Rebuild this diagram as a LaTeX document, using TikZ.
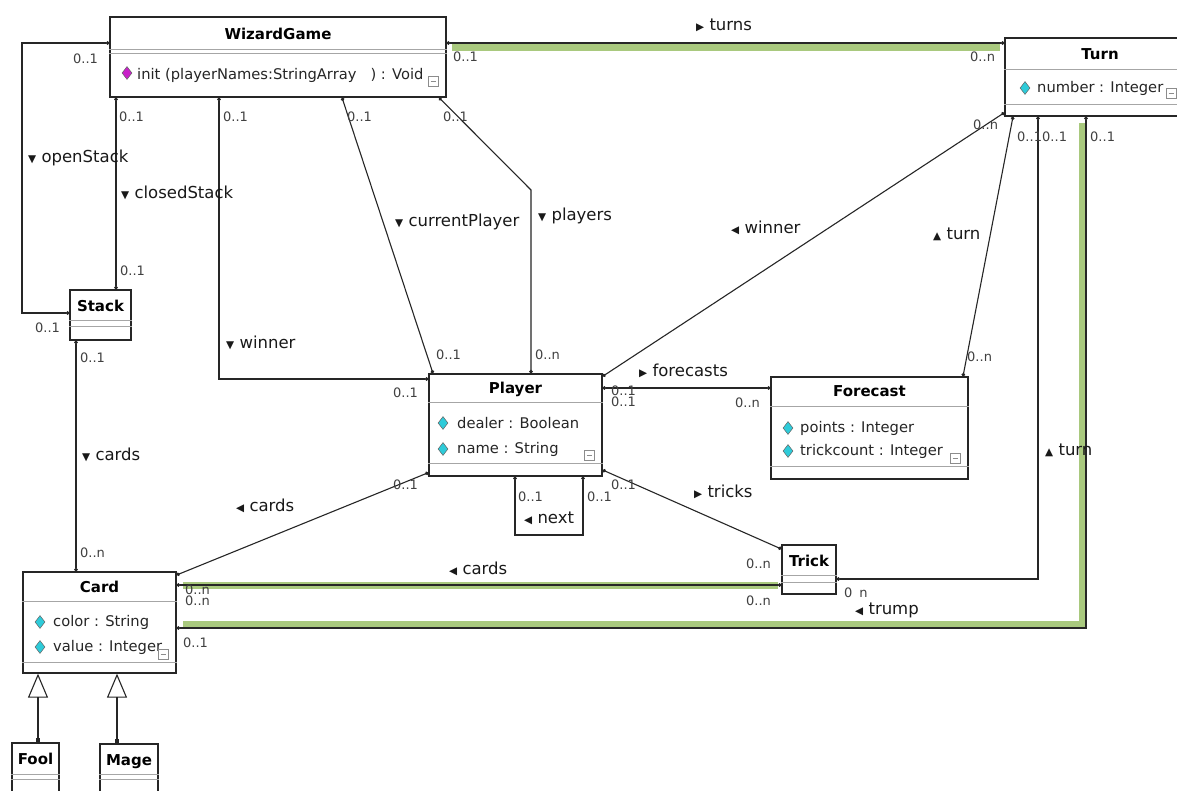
\documentclass[tikz,border=0pt]{standalone}
\usepackage{fontspec}
\setmainfont{DejaVu Sans}
\usetikzlibrary{arrows.meta,shapes.geometric}
\definecolor{hl}{HTML}{A9C97E}
\definecolor{attrcol}{HTML}{2ECBD9}
\definecolor{opcol}{HTML}{C81FC8}
\begin{document}
\begin{tikzpicture}[x=1pt,y=-1pt,
	cls/.style={draw=black!85,line width=1.3pt,fill=white,inner sep=0pt},
	ttl/.style={font=\fontsize{15}{17}\selectfont\bfseries,inner sep=0pt},
	mbr/.style={font=\fontsize{14.7}{16}\selectfont,anchor=west,inner sep=0pt,text=black!85},
	mult/.style={font=\fontsize{13}{15}\selectfont,anchor=west,inner sep=0pt,text=black!75},
	lbl/.style={font=\fontsize{16.5}{18}\selectfont,anchor=west,inner sep=0pt,text=black!90},
	sepl/.style={draw=black!35,line width=1pt},
	assoc/.style={draw=black!85,line width=1.1pt,{Circle[length=3.5pt]}-{Circle[length=3.5pt]}},
	hilite/.style={draw=hl,line width=7pt},
	gen/.style={draw=black!85,line width=1.1pt,{Square[length=4pt]}-{Triangle[open,length=24pt,width=20pt]}},
	aicon/.style={diamond,draw=black!60,fill=attrcol,line width=.5pt,minimum width=10pt,minimum height=13pt,inner sep=0pt},
	oicon/.style={aicon,fill=opcol},
	colbox/.style={draw=black!45,fill=white,line width=.7pt,minimum size=10pt,inner sep=0pt,
		path picture={\draw[black!45,line width=.7pt] ([xshift=2.5pt]path picture bounding box.west)--([xshift=-2.5pt]path picture bounding box.east);}}]
	\def\trR{{\fontsize{10.5}{10}\selectfont▶}}%
	\def\trL{{\fontsize{10.5}{10}\selectfont◀}}%
	\def\trU{{\fontsize{10.5}{10}\selectfont▲}}%
	\def\trD{{\fontsize{10.5}{10}\selectfont▼}}%
	\fill[white] (0,0) rectangle (1177,791);
	\useasboundingbox (0,0) rectangle (1177,791);
	% classes
	\node[cls,minimum width=336pt,minimum height=80pt] (wg) at (278,57) {};
	\node[ttl] (wg-t) at ([yshift=-18pt]wg.north) {WizardGame};
	\draw[sepl] ([yshift=-33pt]wg.north west)--([yshift=-33pt]wg.north east) ([yshift=-37pt]wg.north west)--([yshift=-37pt]wg.north east);
	\node[oicon] (wg-oi) at (127,73) {};
	\node[mbr] (wg-o) at (137,75) {init (playerNames:StringArray\ \ \ ) : Void};
	\node[colbox] (wg-c) at (433,81) {};

	\node[cls,minimum width=190pt,minimum height=78pt] (tu) at (1100,77) {};
	\node[ttl] (tu-t) at ([yshift=-17pt]tu.north) {Turn};
	\draw[sepl] ([yshift=-32pt]tu.north west)--([yshift=-32pt]tu.north east) ([yshift=-67pt]tu.north west)--([yshift=-67pt]tu.north east);
	\node[aicon] (tu-ai) at (1025,88) {};
	\node[mbr] (tu-a) at (1037,88) {number : Integer};
	\node[colbox] (tu-c) at (1171,93) {};

	\node[cls,minimum width=61pt,minimum height=50pt] (st) at (100.5,315) {};
	\node[ttl] (st-t) at ([yshift=-17pt]st.north) {Stack};
	\draw[sepl] ([yshift=-31pt]st.north west)--([yshift=-31pt]st.north east) ([yshift=-37pt]st.north west)--([yshift=-37pt]st.north east);

	\node[cls,minimum width=173pt,minimum height=102pt] (pl) at (515.5,425) {};
	\node[ttl] (pl-t) at ([yshift=-16pt]pl.north) {Player};
	\draw[sepl] ([yshift=-29pt]pl.north west)--([yshift=-29pt]pl.north east) ([yshift=-90pt]pl.north west)--([yshift=-90pt]pl.north east);
	\node[aicon] (pl-ai1) at (443,423) {};
	\node[mbr] (pl-a1) at (457,423) {dealer : Boolean};
	\node[aicon] (pl-ai2) at (443,449) {};
	\node[mbr] (pl-a2) at (457,449) {name : String};
	\node[colbox] (pl-c) at (589,455) {};

	\node[cls,minimum width=197pt,minimum height=102pt] (fc) at (869.5,428) {};
	\node[ttl] (fc-t) at ([yshift=-15pt]fc.north) {Forecast};
	\draw[sepl] ([yshift=-30pt]fc.north west)--([yshift=-30pt]fc.north east) ([yshift=-90pt]fc.north west)--([yshift=-90pt]fc.north east);
	\node[aicon] (fc-ai1) at (788,428) {};
	\node[mbr] (fc-a1) at (800,428) {points : Integer};
	\node[aicon] (fc-ai2) at (788,451) {};
	\node[mbr] (fc-a2) at (800,451) {trickcount : Integer};
	\node[colbox] (fc-c) at (955,458) {};

	\node[cls,minimum width=54pt,minimum height=49pt] (tr) at (809,569.5) {};
	\node[ttl] (tr-t) at ([yshift=-17pt]tr.north) {Trick};
	\draw[sepl] ([yshift=-31pt]tr.north west)--([yshift=-31pt]tr.north east) ([yshift=-38pt]tr.north west)--([yshift=-38pt]tr.north east);

	\node[cls,minimum width=153pt,minimum height=101pt] (cd) at (99.5,622.5) {};
	\node[ttl] (cd-t) at ([yshift=-16pt]cd.north) {Card};
	\draw[sepl] ([yshift=-30pt]cd.north west)--([yshift=-30pt]cd.north east) ([yshift=-91pt]cd.north west)--([yshift=-91pt]cd.north east);
	\node[aicon] (cd-ai1) at (40,622) {};
	\node[mbr] (cd-a1) at (53,622) {color : String};
	\node[aicon] (cd-ai2) at (40,647) {};
	\node[mbr] (cd-a2) at (53,647) {value : Integer};
	\node[colbox] (cd-c) at (163,654) {};

	\node[cls,minimum width=47pt,minimum height=57pt] (fo) at (35.5,771.5) {};
	\node[ttl] (fo-t) at ([yshift=-17pt]fo.north) {Fool};
	\draw[sepl] ([yshift=-32pt]fo.north west)--([yshift=-32pt]fo.north east) ([yshift=-37pt]fo.north west)--([yshift=-37pt]fo.north east);
	\node[cls,minimum width=58pt,minimum height=56pt] (ma) at (129,772) {};
	\node[ttl] (ma-t) at ([yshift=-18pt]ma.north) {Mage};
	\draw[sepl] ([yshift=-31pt]ma.north west)--([yshift=-31pt]ma.north east) ([yshift=-36pt]ma.north west)--([yshift=-36pt]ma.north east);

	% highlighted links
	\draw[hilite] (452,47.5)--(1000,47.5);
	\draw[hilite] (183,585.5)--(778,585.5);
	\draw[hilite] (1082,123)|-(183,624.5);
	% associations
	\draw[assoc] (wg.east |- 0,43)--(tu.west |- 0,43);
	\draw[assoc] (wg.west |- 0,43)-|(22,313)--(st.west |- 0,313);
	\draw[assoc] (wg.south -| 116,0)--(st.north -| 116,0);
	\draw[assoc] (wg.south -| 219,0)|-(pl.west |- 0,379);
	\draw[assoc] (wg.south -| 342,0)--(pl.north -| 433,0);
	\draw[assoc] (wg.south -| 439,0)--(531,190)--(pl.north -| 531,0);
	\draw[assoc] ([yshift=4pt]tu.south west)--([yshift=-3pt]pl.north east);
	\draw[assoc] (tu.south -| 1013,0)--(fc.north -| 963,0);
	\draw[assoc] (pl.east |- 0,388)--(fc.west |- 0,388);
	\draw[assoc] (tu.south -| 1038,0)|-(tr.east |- 0,579);
	\draw[assoc] (tu.south -| 1086,0)|-(cd.east |- 0,628);
	\draw[assoc] (tr.west |- 0,585)--(cd.east |- 0,585);
	\draw[assoc] ([yshift=4pt]pl.south west)--(cd.east |- 0,575);
	\draw[assoc] (st.south -| 76,0)--(cd.north -| 76,0);
	\draw[assoc] (pl.east |- 0,470)--(tr.west |- 0,549);
	\draw[assoc] (pl.south -| 515,0)--(515,535)-|(pl.south -| 583,0);
	% generalisations
	\draw[gen] (fo.north -| 38,0)--(cd.south -| 38,0);
	\draw[gen] (ma.north -| 117,0)--(cd.south -| 117,0);
	% role labels
	\node[lbl] (l-turns) at (696,25) {\trR\ turns};
	\node[lbl] (l-open) at (28,158) {\trD\ openStack};
	\node[lbl] (l-closed) at (121,193) {\trD\ closedStack};
	\node[lbl] (l-win1) at (226,343) {\trD\ winner};
	\node[lbl] (l-cur) at (395,222) {\trD\ currentPlayer};
	\node[lbl] (l-play) at (538,216) {\trD\ players};
	\node[lbl] (l-win2) at (731,228) {\trL\ winner};
	\node[lbl] (l-turn1) at (933,234) {\trU\ turn};
	\node[lbl] (l-fore) at (639,371) {\trR\ forecasts};
	\node[lbl] (l-turn2) at (1045,450) {\trU\ turn};
	\node[lbl] (l-tricks) at (694,492) {\trR\ tricks};
	\node[lbl] (l-cards1) at (449,569) {\trL\ cards};
	\node[lbl] (l-cards2) at (236,506) {\trL\ cards};
	\node[lbl] (l-cards3) at (82,455) {\trD\ cards};
	\node[lbl] (l-trump) at (855,610) {\trL\ trump};
	\node[lbl] (l-next) at (524,518) {\trL\ next};
	% multiplicities
	\node[mult] (m1) at (73,59) {0..1};
	\node[mult] (m2) at (35,328) {0..1};
	\node[mult] (m3) at (119,117) {0..1};
	\node[mult] (m4) at (120,271) {0..1};
	\node[mult] (m5) at (223,117) {0..1};
	\node[mult] (m6) at (393,393) {0..1};
	\node[mult] (m7) at (347,117) {0..1};
	\node[mult] (m8) at (436,355) {0..1};
	\node[mult] (m9) at (443,117) {0..1};
	\node[mult] (m10) at (535,355) {0..n};
	\node[mult] (m11) at (453,57) {0..1};
	\node[mult] (m12) at (970,57) {0..n};
	\node[mult] (m13) at (973,125) {0..n};
	\node[mult] (m14) at (611,391) {0..1};
	\node[mult] (m15) at (611,402) {0..1};
	\node[mult] (m16) at (735,403) {0..n};
	\node[mult] (m17) at (1017,137) {0..1};
	\node[mult] (m18) at (967,357) {0..n};
	\node[mult] (m19) at (1042,137) {0..1};
	\node[mult] (m20) at (844,593) {0\hspace{7pt}n};
	\node[mult] (m21) at (1090,137) {0..1};
	\node[mult] (m22) at (183,643) {0..1};
	\node[mult] (m23) at (746,601) {0..n};
	\node[mult] (m24) at (185,601) {0..n};
	\node[mult] (m25) at (611,485) {0..1};
	\node[mult] (m26) at (746,564) {0..n};
	\node[mult] (m27) at (393,485) {0..1};
	\node[mult] (m28) at (185,590) {0..n};
	\node[mult] (m29) at (80,358) {0..1};
	\node[mult] (m30) at (80,553) {0..n};
	\node[mult] (m31) at (518,497) {0..1};
	\node[mult] (m32) at (587,497) {0..1};
\end{tikzpicture}
\end{document}
